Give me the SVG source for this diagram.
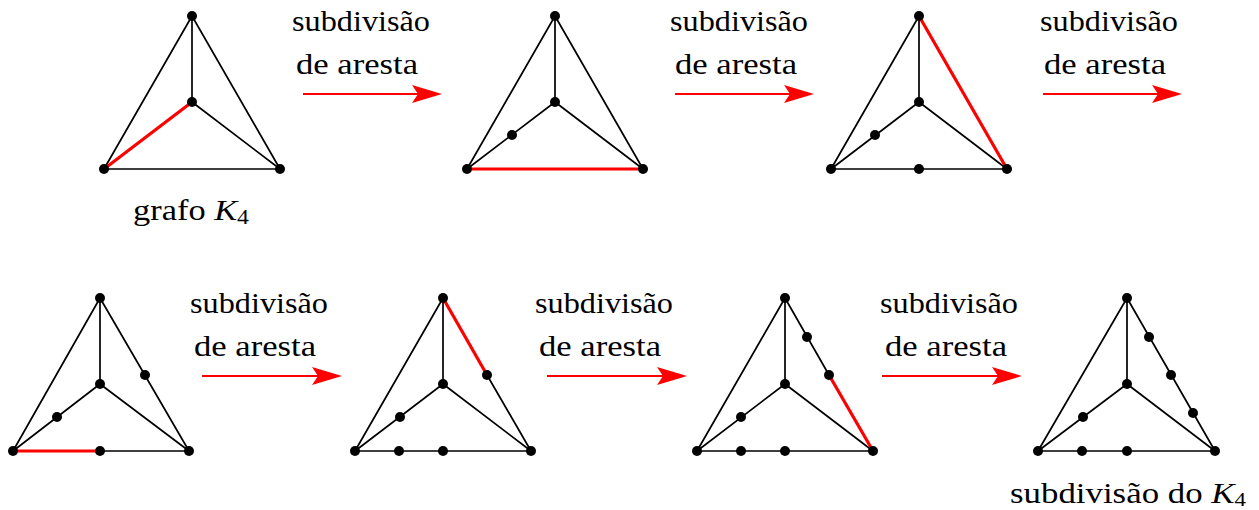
<svg xmlns="http://www.w3.org/2000/svg" width="1259" height="510" viewBox="0 0 1259 510">
<style>
.e{stroke:#000;stroke-width:1.7;fill:none;stroke-linecap:round}
.r{stroke:#f00;stroke-width:3.2;fill:none;stroke-linecap:round}
.v{fill:#000}
.t{font-family:"Liberation Serif","DejaVu Serif",serif;font-size:29px;fill:#000}
.a{stroke:#f00;stroke-width:2;fill:none}
.h{fill:#f00}
</style>
<defs>
<circle id="d" r="5" class="v"/>
</defs>
<rect width="1259" height="510" fill="#fff"/>

<g id="g1">
<path class="e" d="M192,16 L104,169 L280,169 Z M192,16 L192,102 L280,169"/>
<path class="r" d="M192,102 L104,169"/>
<use href="#d" x="192" y="16"/><use href="#d" x="192" y="102"/><use href="#d" x="104" y="169"/><use href="#d" x="280" y="169"/>
<text class="t" x="133" y="220" textLength="116" lengthAdjust="spacingAndGlyphs">grafo <tspan font-style="italic">K</tspan><tspan font-size="20" dy="4">4</tspan></text>
</g>

<g id="g2">
<path class="e" d="M555,16 L467,169 M555,16 L643,169 M555,16 L555,102 L643,169 M555,102 L467,169"/>
<path class="r" d="M467,169 L643,169"/>
<use href="#d" x="555" y="16"/><use href="#d" x="555" y="102"/><use href="#d" x="467" y="169"/><use href="#d" x="643" y="169"/><use href="#d" x="512" y="135"/>
</g>

<g id="g3">
<path class="e" d="M919,16 L831,169 L1007,169 M919,16 L919,102 L1007,169 M919,102 L831,169"/>
<path class="r" d="M919,16 L1007,169"/>
<use href="#d" x="919" y="16"/><use href="#d" x="919" y="102"/><use href="#d" x="831" y="169"/><use href="#d" x="1007" y="169"/><use href="#d" x="875" y="135"/><use href="#d" x="919" y="169"/>
</g>

<g id="g4">
<path class="e" d="M100,298 L13,451 M100,298 L189,451 M100,298 L100,384 L189,451 M100,384 L13,451 M100,451 L189,451"/>
<path class="r" d="M13,451 L100,451"/>
<use href="#d" x="100" y="298"/><use href="#d" x="100" y="384"/><use href="#d" x="13" y="451"/><use href="#d" x="189" y="451"/><use href="#d" x="57" y="417"/><use href="#d" x="100" y="451"/><use href="#d" x="145" y="375"/>
</g>

<g id="g5">
<path class="e" d="M443,298 L355,451 L531,451 M487,375 L531,451 M443,298 L443,384 L531,451 M443,384 L355,451"/>
<path class="r" d="M443,298 L487,375"/>
<use href="#d" x="443" y="298"/><use href="#d" x="443" y="384"/><use href="#d" x="355" y="451"/><use href="#d" x="531" y="451"/><use href="#d" x="400" y="417"/><use href="#d" x="399" y="451"/><use href="#d" x="443" y="451"/><use href="#d" x="487" y="375"/>
</g>

<g id="g6">
<path class="e" d="M785,298 L697,451 L873,451 M785,298 L829,375 M785,298 L785,384 L873,451 M785,384 L697,451"/>
<path class="r" d="M829,375 L873,451"/>
<use href="#d" x="785" y="298"/><use href="#d" x="785" y="384"/><use href="#d" x="697" y="451"/><use href="#d" x="873" y="451"/><use href="#d" x="741" y="417"/><use href="#d" x="741" y="451"/><use href="#d" x="785" y="451"/><use href="#d" x="807" y="337"/><use href="#d" x="829" y="375"/>
</g>

<g id="g7">
<path class="e" d="M1127,298 L1038,451 L1215,451 L1127,298 M1127,298 L1127,384 L1215,451 M1127,384 L1038,451"/>
<use href="#d" x="1127" y="298"/><use href="#d" x="1127" y="384"/><use href="#d" x="1038" y="451"/><use href="#d" x="1215" y="451"/><use href="#d" x="1083" y="417"/><use href="#d" x="1082" y="451"/><use href="#d" x="1127" y="451"/><use href="#d" x="1149" y="337"/><use href="#d" x="1171" y="375"/><use href="#d" x="1193" y="413"/>
<text class="t" x="1010" y="503" textLength="236" lengthAdjust="spacingAndGlyphs">subdivisão do <tspan font-style="italic">K</tspan><tspan font-size="19" dy="3">4</tspan></text>
</g>

<g id="connectors">
<g id="c1">
<path class="a" d="M303,94 L420,94"/><path class="h" d="M442,94 L412,85 L418,94 L412,103 Z"/>
<text class="t" x="292" y="31" textLength="138" lengthAdjust="spacingAndGlyphs">subdivisão</text>
<text class="t" x="296" y="74" textLength="122" lengthAdjust="spacingAndGlyphs">de aresta</text>
</g>
<g id="c2">
<path class="a" d="M675,94 L792,94"/><path class="h" d="M814,94 L784,85 L790,94 L784,103 Z"/>
<text class="t" x="670" y="31" textLength="138" lengthAdjust="spacingAndGlyphs">subdivisão</text>
<text class="t" x="675" y="74" textLength="122" lengthAdjust="spacingAndGlyphs">de aresta</text>
</g>
<g id="c3">
<path class="a" d="M1043,94 L1160,94"/><path class="h" d="M1182,94 L1152,85 L1158,94 L1152,103 Z"/>
<text class="t" x="1040" y="31" textLength="138" lengthAdjust="spacingAndGlyphs">subdivisão</text>
<text class="t" x="1044" y="74" textLength="122" lengthAdjust="spacingAndGlyphs">de aresta</text>
</g>
<g id="c4">
<path class="a" d="M202,376 L320,376"/><path class="h" d="M342,376 L312,367 L318,376 L312,385 Z"/>
<text class="t" x="190" y="313" textLength="138" lengthAdjust="spacingAndGlyphs">subdivisão</text>
<text class="t" x="194" y="356" textLength="122" lengthAdjust="spacingAndGlyphs">de aresta</text>
</g>
<g id="c5">
<path class="a" d="M547,376 L665,376"/><path class="h" d="M687,376 L657,367 L663,376 L657,385 Z"/>
<text class="t" x="535" y="313" textLength="138" lengthAdjust="spacingAndGlyphs">subdivisão</text>
<text class="t" x="539" y="356" textLength="122" lengthAdjust="spacingAndGlyphs">de aresta</text>
</g>
<g id="c6">
<path class="a" d="M882,376 L1000,376"/><path class="h" d="M1022,376 L992,367 L998,376 L992,385 Z"/>
<text class="t" x="880" y="313" textLength="138" lengthAdjust="spacingAndGlyphs">subdivisão</text>
<text class="t" x="885" y="356" textLength="122" lengthAdjust="spacingAndGlyphs">de aresta</text>
</g>
</g>
</svg>
